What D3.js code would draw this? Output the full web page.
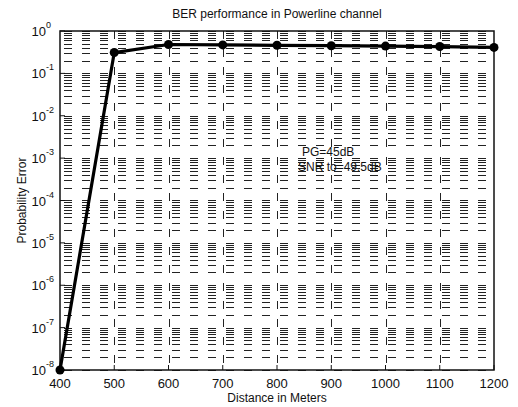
<!DOCTYPE html>
<html>
<head>
<meta charset="utf-8">
<script src="https://cdn.jsdelivr.net/npm/d3@7"></script>
<style>
  body { margin: 0; background: #fff; }
  text { font-family: "Liberation Sans", Arial, sans-serif; fill: #111; }
</style>
</head>
<body>
<svg id="chart" width="518" height="407"></svg>
<script>
// data
const distances = [400, 500, 600, 700, 800, 900, 1000, 1100, 1200];
const berValues = [1e-8, 0.31, 0.48, 0.47, 0.46, 0.45, 0.44, 0.43, 0.41];
const xTickValues = [400, 500, 600, 700, 800, 900, 1000, 1100, 1200];
const yExponents = [0, -1, -2, -3, -4, -5, -6, -7, -8];
const notes = ["PG=45dB", "SNR to=49.5dB"];

var svg = d3.select("#chart");

// note: "top" clashes with window.top, so plot edges get their own names
var pLeft = 60, pRight = 494, pTop = 31, pBottom = 370;

var xScale = d3.scaleLinear().domain([400, 1200]).range([pLeft, pRight]),
    yScale = d3.scaleLog().domain([1e-8, 1]).range([pBottom, pTop]);

var g = svg.append("g");

// horizontal grid (major + minor, all dashed like the matlab print)
g.selectAll(".hgrid")
    .data(yScale.ticks())
    .enter()
    .append("line")
    .attr("class", "hgrid")
    .attr("x1", pLeft).attr("x2", pRight)
    .attr("y1", d => Math.round(yScale(d)) + 0.5)
    .attr("y2", d => Math.round(yScale(d)) + 0.5)
    .attr("stroke", "#222")
    .attr("stroke-width", 1)
    .attr("stroke-dasharray", "8,10")
    .attr("stroke-dashoffset", -4);

// vertical grid
g.selectAll(".vgrid")
    .data(xTickValues.slice(1, -1))
    .enter()
    .append("line")
    .attr("class", "vgrid")
    .attr("x1", d => Math.round(xScale(d)) + 0.5)
    .attr("x2", d => Math.round(xScale(d)) + 0.5)
    .attr("y1", pTop).attr("y2", pBottom)
    .attr("stroke", "#222")
    .attr("stroke-width", 1)
    .attr("stroke-dasharray", "8,10");

// box
g.append("rect")
    .attr("x", pLeft).attr("y", pTop)
    .attr("width", pRight - pLeft).attr("height", pBottom - pTop)
    .attr("fill", "none")
    .attr("stroke", "#111")
    .attr("stroke-width", 1.5);

// x tick marks + labels
var xt = g.selectAll(".xtick")
    .data(xTickValues)
    .enter()
    .append("g")
    .attr("class", "xtick");

xt.append("line")
    .attr("x1", d => xScale(d)).attr("x2", d => xScale(d))
    .attr("y1", pBottom).attr("y2", pBottom - 5)
    .attr("stroke", "#111");

xt.append("text")
    .attr("x", d => xScale(d))
    .attr("y", pBottom + 18)
    .attr("text-anchor", "middle")
    .style("font-size", "13px")
    .text(d => d);

// y tick labels 10^n
var yt = g.selectAll(".ytick")
    .data(yExponents)
    .enter()
    .append("g")
    .attr("class", "ytick")
    .attr("transform", d => "translate(0," + yScale(Math.pow(10, d)) + ")");

yt.append("line")
    .attr("x1", pLeft).attr("x2", pLeft + 5)
    .attr("stroke", "#111");

yt.append("text")
    .attr("x", 46)
    .attr("y", 5)
    .attr("text-anchor", "end")
    .style("font-size", "13px")
    .text("10");

yt.append("text")
    .attr("x", 46)
    .attr("y", -3)
    .style("font-size", "9px")
    .text(d => d);

// the curve
var line = d3.line()
    .x(d => xScale(d[0]))
    .y(d => yScale(d[1]));

var points = distances.map((d, i) => [d, berValues[i]]);

g.append("path")
    .datum(points)
    .attr("d", line)
    .attr("fill", "none")
    .attr("stroke", "#000")
    .attr("stroke-width", 3.2)
    .attr("stroke-linejoin", "round");

g.selectAll(".marker")
    .data(points)
    .enter()
    .append("circle")
    .attr("class", "marker")
    .attr("cx", d => xScale(d[0]))
    .attr("cy", d => yScale(d[1]))
    .attr("r", 4.5)
    .attr("fill", "#000");

// annotation
g.selectAll(".note")
    .data(notes)
    .enter()
    .append("text")
    .attr("class", "note")
    .attr("x", (d, i) => i === 0 ? 302 : 298)
    .attr("y", (d, i) => 156 + i * 15)
    .style("font-size", "12px")
    .text(d => d);

// titles
svg.append("text")
    .attr("x", (pLeft + pRight) / 2)
    .attr("y", 18)
    .attr("text-anchor", "middle")
    .style("font-size", "12px")
    .text("BER performance in Powerline channel");

svg.append("text")
    .attr("x", (pLeft + pRight) / 2)
    .attr("y", 402)
    .attr("text-anchor", "middle")
    .style("font-size", "12px")
    .text("Distance in Meters");

svg.append("text")
    .attr("transform", "translate(26," + (pTop + pBottom) / 2 + ") rotate(-90)")
    .attr("text-anchor", "middle")
    .style("font-size", "12px")
    .text("Probability Error");
</script>
</body>
</html>
